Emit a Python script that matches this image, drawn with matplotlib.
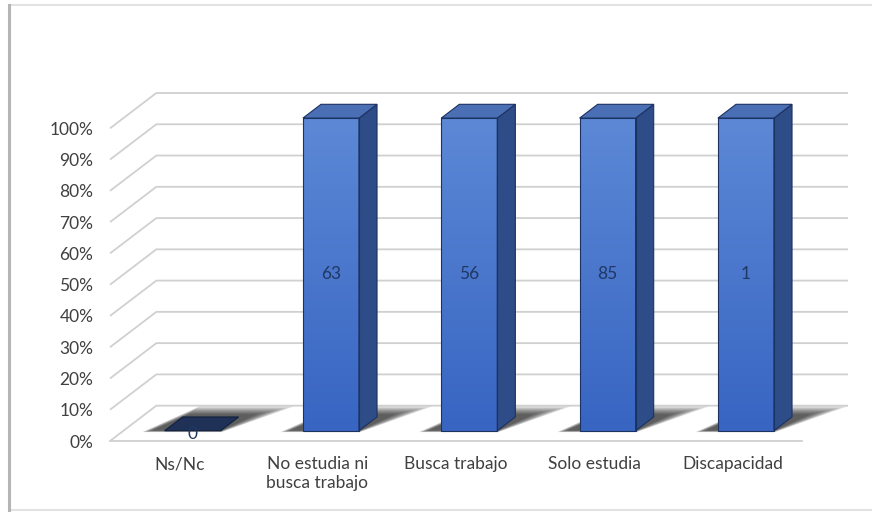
import numpy as np
import matplotlib.pyplot as plt
from matplotlib.patches import Polygon, Rectangle
from matplotlib.colors import LinearSegmentedColormap
from matplotlib.lines import Line2D

# datos
categories = ['Ns/Nc', 'No estudia ni\nbusca trabajo', 'Busca trabajo', 'Solo estudia', 'Discapacidad']
counts = [0, 63, 56, 85, 1]
percent = [0, 100, 100, 100, 100]
yticks = list(range(0, 101, 10))
ytick_labels = [f'{t}%' for t in yticks]

# geometria del falso 3D (en unidades de datos)
DX, DY = 0.335, 11.3      # profundidad del suelo / pared
F0, F1 = 0.29, 0.68       # posicion de la barra dentro de la profundidad
BAR_W = 0.405

FRONT_CMAP = LinearSegmentedColormap.from_list('front', ['#3865c2', '#5c88d6'])
SIDE_COL = '#2e4c88'
TOP_COL = '#4b6fb4'
EDGE_COL = '#1c3260'
GRID_COL = '#d0d0d0'
TXT_COL = '#404040'

plt.rcParams['font.family'] = ['Lato', 'DejaVu Sans']

fig = plt.figure(figsize=(8.72, 5.13), dpi=100)
W, H = 872, 513

# marco con sombra (captura original)
fig.patches.append(Rectangle((10 / W, 3 / H), 1.0, 505 / H, transform=fig.transFigure,
                             fill=False, edgecolor='#e2e2e2', lw=1.5, zorder=0))
fig.lines.append(Line2D([9 / W, 9 / W], [3 / H, 508 / H], transform=fig.transFigure,
                        color='#b5b5b5', lw=2.2, zorder=1))

ax = fig.add_axes([110 / W, 1 - 441 / H, 738 / W, 348 / H])
ax.set_facecolor('none')
for s in ax.spines.values():
    s.set_visible(False)

# cuadricula: diagonal lateral + pared del fondo
for t in yticks:
    ax.plot([-0.5, -0.5 + DX, 4.5 + DX], [t, t + DY, t + DY], color=GRID_COL, lw=1.3, zorder=1,
            clip_on=False, solid_capstyle='butt')
ax.plot([-0.5, 4.5], [0, 0], color=GRID_COL, lw=1.3, zorder=1, clip_on=False)


def depth_pt(x, y, f):
    return (x + f * DX, y + f * DY)


for i, (p, n) in enumerate(zip(percent, counts)):
    xl, xr = i - BAR_W / 2, i + BAR_W / 2

    # sombra difusa sobre el suelo
    nl = 9
    for k in range(nl):
        e = k / nl
        sh = [depth_pt(xl - 0.15 + 0.06 * e, 0, F0 - 0.04 + 0.05 * e),
              depth_pt(xr + 0.02 - 0.02 * e, 0, F0 - 0.04 + 0.05 * e),
              depth_pt(xr + 0.30 - 0.22 * e, 0, 0.98 - 0.25 * e),
              depth_pt(xl + 0.02, 0, 0.98 - 0.25 * e)]
        ax.add_patch(Polygon(sh, closed=True, facecolor='black', edgecolor='none', alpha=0.1, zorder=2))

    if p > 0:
        # cara frontal con degradado
        x0, y0 = depth_pt(xl, 0, F0)
        x1, y1 = depth_pt(xr, p, F0)
        front = Rectangle((x0, y0), x1 - x0, y1 - y0, facecolor='none', edgecolor=EDGE_COL, lw=0.8, zorder=5)
        ax.add_patch(front)
        im = ax.imshow(np.linspace(0, 1, 100)[:, None], cmap=FRONT_CMAP, origin='lower',
                       extent=[x0, x1, y0, y1], aspect='auto', zorder=4)
        im.set_clip_path(front)
        # cara lateral
        side = [depth_pt(xr, 0, F0), depth_pt(xr, 0, F1), depth_pt(xr, p, F1), depth_pt(xr, p, F0)]
        ax.add_patch(Polygon(side, closed=True, facecolor=SIDE_COL, edgecolor=EDGE_COL, lw=0.8, zorder=4))
        # cara superior
        top = [depth_pt(xl, p, F0), depth_pt(xr, p, F0), depth_pt(xr, p, F1), depth_pt(xl, p, F1)]
        ax.add_patch(Polygon(top, closed=True, facecolor=TOP_COL, edgecolor=EDGE_COL, lw=0.8, zorder=4))
        lx, ly = depth_pt(i, p / 2, F0)
    else:
        top = [depth_pt(xl, 0, F0), depth_pt(xr, 0, F0), depth_pt(xr, 0, F1), depth_pt(xl, 0, F1)]
        ax.add_patch(Polygon(top, closed=True, facecolor='#1f3157', edgecolor='#10203d', lw=0.8, zorder=4))
        lx, ly = depth_pt(i, 0, F0)
        ly -= 1.0
    ax.text(lx, ly, str(n), ha='center', va='center', fontsize=12.5, color='#1f3864', zorder=6)

ax.set_xlim(-0.5, 4.5 + DX)
ax.set_ylim(0, 100 + DY)

ax.set_yticks(yticks)
ax.set_yticklabels(ytick_labels)
ax.set_xticks(range(len(categories)))
ax.set_xticklabels(categories, linespacing=1.2)
ax.tick_params(axis='both', length=0, labelsize=12.5, labelcolor=TXT_COL)
ax.tick_params(axis='y', pad=12)
ax.tick_params(axis='x', pad=11)

fig.savefig('out.png', dpi=100, facecolor='white')
